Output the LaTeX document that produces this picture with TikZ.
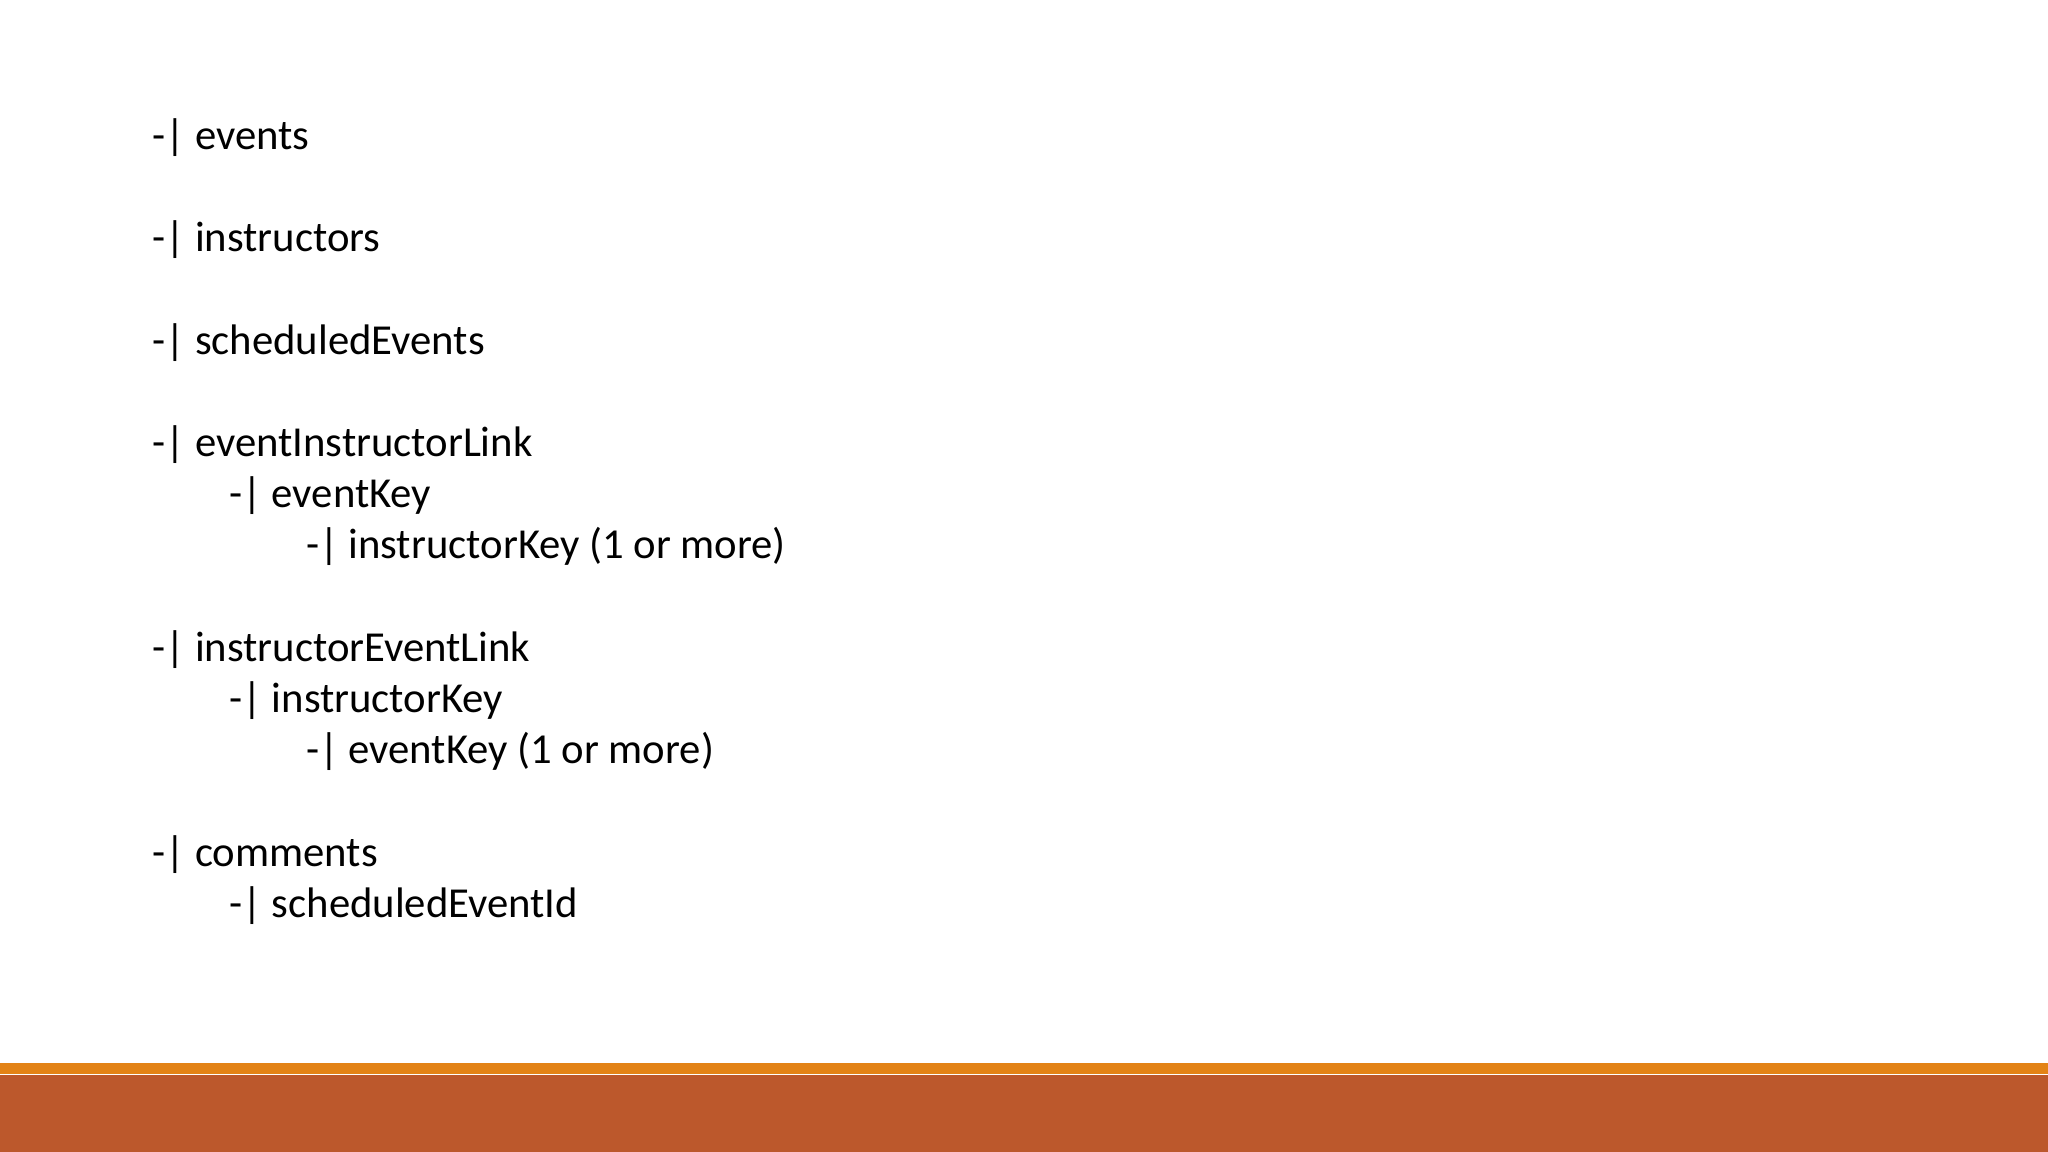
\documentclass[tikz,border=0pt]{standalone}
\usepackage{fontspec}
\setmainfont{Carlito}
\usepackage{tikz}
\usetikzlibrary{positioning}

\definecolor{barorange}{RGB}{227,131,22}
\definecolor{bardark}{RGB}{188,88,44}

\begin{document}
\begin{tikzpicture}
\tikzset{T/.style={anchor=base west,inner sep=0pt,font=\fontsize{12.15}{14}\selectfont}}

  \useasboundingbox (0,0) rectangle (20.48,11.52);
  \fill[white] (0,0) rectangle (20.48,11.52);

  % bottom bars
  \fill[bardark] (0,0) rectangle (20.48,0.77);
  \fill[barorange] (0,0.78) rectangle (20.48,0.89);

  \node[T] (events) at (1.520,10.027) {-| events};
  \node[T] (instructors) at (1.520,9.003) {-| instructors};
  \node[T] (sched) at (1.520,7.979) {-| scheduledEvents};

  \node[T] (eil) at (1.520,6.955) {-| eventInstructorLink};
  \node[T] (eilkey) at (2.288,6.443) {-| eventKey};
  \node[T] (eilsub) at (3.055,5.931) {-| instructorKey (1 or more)};

  \node[T] (iel) at (1.520,4.907) {-| instructorEventLink};
  \node[T] (ielkey) at (2.288,4.395) {-| instructorKey};
  \node[T] (ielsub) at (3.055,3.883) {-| eventKey (1 or more)};

  \node[T] (comments) at (1.520,2.859) {-| comments};
  \node[T] (cid) at (2.288,2.347) {-| scheduledEventId};
\end{tikzpicture}
\end{document}
